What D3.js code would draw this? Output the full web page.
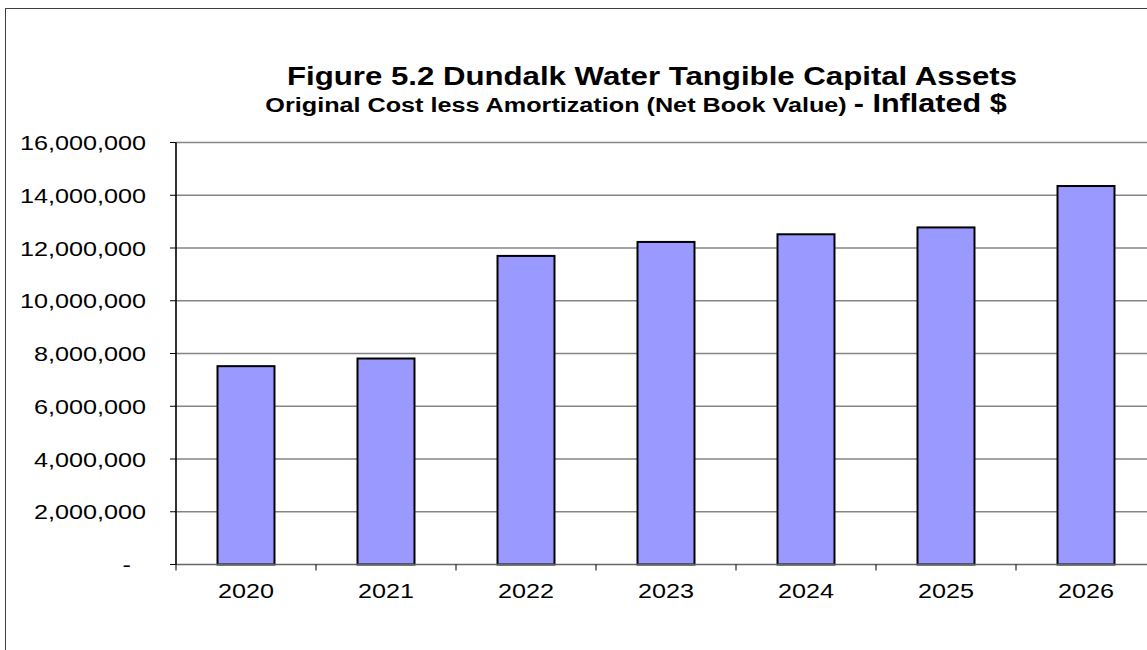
<!DOCTYPE html>
<html><head><meta charset="utf-8">
<script src="https://cdn.jsdelivr.net/npm/d3@7"></script>
<style>html,body{margin:0;padding:0;background:#fff;}svg{display:block;}</style>
</head><body>
<svg id="c" width="1147" height="650"></svg>
<script>
const years = ["2020","2021","2022","2023","2024","2025","2026"];
const netBookValue = [7520000, 7810000, 11700000, 12230000, 12520000, 12780000, 14350000];
const yTicks = [0,2000000,4000000,6000000,8000000,10000000,12000000,14000000,16000000];
const titleText = "Figure 5.2 Dundalk Water Tangible Capital Assets";
const subtitleA = "Original Cost less Amortization (Net Book Value) ";
const subtitleB = "- Inflated $";

const svg = d3.select("#c");
const SX = 1.2; // horizontal glyph stretch seen in reference
const font = "'Liberation Sans', Arial, sans-serif";

// outer chart border
svg.append("rect").attr("x",5.5).attr("y",8.5).attr("width",1200).attr("height",700)
  .attr("fill","none").attr("stroke","#404040").attr("stroke-width",1);

const L=176, R=1156, T=142.5, B=564.5;
const x = d3.scaleBand().domain(years).range([L,R]).paddingInner(0.593).paddingOuter(0.2965);
const xs = d3.scaleBand().domain(years).range([L,R]).padding(0);
const y = d3.scaleLinear().domain([0,16000000]).range([B,T]);

// gridlines
svg.append("g").selectAll("line").data(yTicks.filter(d=>d>0)).join("line")
  .attr("x1",L).attr("x2",R).attr("y1",d=>y(d)).attr("y2",d=>y(d))
  .attr("stroke","#858585").attr("stroke-width",1.6);

// bars
svg.append("g").selectAll("rect").data(years).join("rect")
  .attr("x",d=>x(d)).attr("width",x.bandwidth())
  .attr("y",(d,i)=>y(netBookValue[i])).attr("height",(d,i)=>B-y(netBookValue[i]))
  .attr("fill","#9999FF").attr("stroke","#000").attr("stroke-width",2);

// x axis line
svg.append("line").attr("x1",L).attr("x2",R).attr("y1",B).attr("y2",B)
  .attr("stroke","#666").attr("stroke-width",1.6);
// x ticks at category boundaries
const bounds = years.map(d=>xs(d)).concat([R]);
svg.append("g").selectAll("line").data(bounds).join("line")
  .attr("x1",d=>d).attr("x2",d=>d).attr("y1",B).attr("y2",B+6)
  .attr("stroke","#000").attr("stroke-width",1);
// y axis
svg.append("line").attr("x1",L).attr("x2",L).attr("y1",T).attr("y2",B)
  .attr("stroke","#000").attr("stroke-width",1.6);
svg.append("g").selectAll("line").data(yTicks).join("line")
  .attr("x1",L-6).attr("x2",L).attr("y1",d=>y(d)).attr("y2",d=>y(d))
  .attr("stroke","#000").attr("stroke-width",1);

const fmt = d3.format(",");
svg.append("g").selectAll("text").data(yTicks).join("text")
  .attr("transform",d=>`translate(${d===0?131:146},${y(d)+7.5}) scale(${SX},1)`)
  .attr("text-anchor","end").attr("font-family",font).attr("font-size",21).attr("fill","#000")
  .text(d=>d===0?"-":fmt(d));

svg.append("g").selectAll("text").data(years).join("text")
  .attr("transform",d=>`translate(${xs(d)+xs.bandwidth()/2},598) scale(${SX},1)`)
  .attr("text-anchor","middle").attr("font-family",font).attr("font-size",21).attr("fill","#000")
  .text(d=>d);

// titles
svg.append("text").attr("transform",`translate(652,85) scale(${SX},1)`)
  .attr("text-anchor","middle").attr("font-family",font).attr("font-weight","bold")
  .attr("font-size",26).text(titleText);
const st = svg.append("text").attr("transform",`translate(636,112) scale(${SX},1)`)
  .attr("text-anchor","middle").attr("font-family",font).attr("font-weight","bold");
st.append("tspan").attr("font-size",21).attr("xml:space","preserve").text(subtitleA);
st.append("tspan").attr("font-size",25.5).text(subtitleB);
</script>
</body></html>
